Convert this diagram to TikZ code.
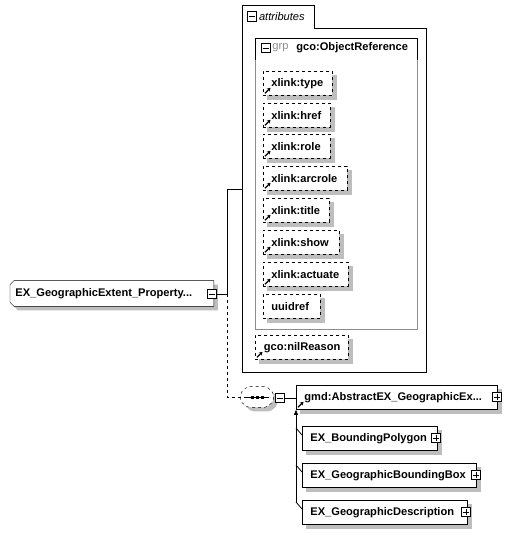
\documentclass[tikz,border=0pt]{standalone}
\usepackage{fontspec}
\setmainfont{Liberation Sans}
\usetikzlibrary{arrows.meta,positioning,backgrounds}

\definecolor{shadowgray}{RGB}{190,190,190}
\definecolor{grpgray}{RGB}{140,140,140}
\newcommand{\dfont}{\fontsize{11.1}{12}\selectfont}
% little reference arrow in the lower left corner
\newcommand{\refmark}[1]{\draw[solid,line width=1.2pt,-{Stealth[length=3.4pt,width=4pt]}]
  ([shift={(2pt,2.5pt)}]#1.south west) -- ++(5.5pt,5.5pt);}
% grey shadow behind a box
\newcommand{\shadowof}[1]{\fill[shadowgray] ([shift={(4pt,-4pt)}]#1.north west) rectangle ([shift={(4pt,-4pt)}]#1.south east);}

\tikzset{
  elem/.style={draw,fill=white,minimum height=24pt,inner xsep=8pt,inner ysep=0pt,
    text width=#1,align=left,anchor=north west,font=\dfont\bfseries},
  attr/.style={elem=#1,dashed},
  btn/.style={draw,solid,fill=white,minimum size=9.5pt,inner sep=0pt},
  minus btn/.style={btn,path picture={
    \draw ([xshift=1.8pt]path picture bounding box.west) -- ([xshift=-1.8pt]path picture bounding box.east);}},
  plus btn/.style={btn,path picture={
    \draw ([xshift=1.8pt]path picture bounding box.west) -- ([xshift=-1.8pt]path picture bounding box.east);
    \draw ([yshift=-1.8pt]path picture bounding box.north) -- ([yshift=1.8pt]path picture bounding box.south);}},
}

\begin{document}
\begin{tikzpicture}[x=1pt,y=-1pt,line width=0.8pt]
  \useasboundingbox (0,0) rectangle (512,534);

  % the element itself
  \node[minimum height=25pt,inner xsep=5pt,text width=193pt,align=left,anchor=west,
    font=\dfont\bfseries] (geoext) at (10,293.5) {EX\_GeographicExtent\_Property...};
  \begin{scope}[on background layer]
    \fill[shadowgray] ([shift={(4pt,-4pt)}]geoext.north east)
      -- ([shift={(8pt,-4pt)}]geoext.north west) -- ([shift={(4pt,-8pt)}]geoext.north west)
      -- ([shift={(4pt,0pt)}]geoext.south west) -- ([shift={(8pt,-4pt)}]geoext.south west)
      -- ([shift={(4pt,-4pt)}]geoext.south east) -- cycle;
    \draw[fill=white] (geoext.north east)
      -- ([xshift=4pt]geoext.north west) -- ([yshift=-4pt]geoext.north west)
      -- ([yshift=4pt]geoext.south west) -- ([xshift=4pt]geoext.south west)
      -- (geoext.south east) -- cycle;
  \end{scope}
  \node[minus btn] (geobtn) at (212,294) {};

  % attributes
  \draw (242,372) -- (242,5) -- (314,5) -- (314,28) -- (426,28) -- (426,372) -- cycle;
  \node[minus btn] (attrbtn) at (252,16.5) {};
  \node[right=1.5pt of attrbtn.east,anchor=west,inner sep=0pt,font=\dfont\itshape] (attrlbl) {attributes};
  \coordinate (attrin) at (242,189);

  % group
  \draw[grpgray] (255,38) rectangle (417,329);
  \draw (255,60) -- (255,38) -- (417,38) -- (417,60);
  \node[minus btn] (grpbtn) at (266,48) {};
  \node[anchor=west,inner sep=0pt,font=\dfont,text=grpgray] (grplbl) at (272,48) {grp};
  \node[anchor=west,inner sep=0pt,font=\dfont\bfseries] (grpname) at (296,48) {gco:ObjectReference};

  \node[attr=53pt] (xtype) at (263,71) {xlink:type};
  \node[attr=51pt] (xhref) at (263,103) {xlink:href};
  \node[attr=51pt] (xrole) at (263,134) {xlink:role};
  \node[attr=68pt] (xarcrole) at (263,166) {xlink:arcrole};
  \node[attr=50pt] (xtitle) at (263,198) {xlink:title};
  \node[attr=60pt] (xshow) at (263,230) {xlink:show};
  \node[attr=69pt] (xactuate) at (263,262) {xlink:actuate};
  \node[attr=41pt] (uuidref) at (263,294) {uuidref};
  \node[attr=76pt,inner xsep=8.5pt] (nilreason) at (255,335) {gco:nilReason};
  \foreach \a in {xtype,xhref,xrole,xarcrole,xtitle,xshow,xactuate,nilreason}
    {\refmark{\a}}

  % sequence
  \node[minimum width=32pt,minimum height=20pt,inner sep=0pt] (seq) at (257,397) {};
  \begin{scope}[on background layer]
    \fill[shadowgray,rounded corners=2pt]
      ([shift={(11pt,-4pt)}]seq.north west) -- ([shift={(-3pt,-4pt)}]seq.north east) -- ([shift={(4pt,-10pt)}]seq.north east)
      -- ([shift={(4pt,2pt)}]seq.south east) -- ([shift={(-3pt,-4pt)}]seq.south east) -- ([shift={(11pt,-4pt)}]seq.south west)
      -- ([shift={(4pt,2pt)}]seq.south west) -- ([shift={(4pt,-10pt)}]seq.north west) -- cycle;
    \draw[dashed,fill=white,rounded corners=2pt]
      ([xshift=7pt]seq.north west) -- ([xshift=-7pt]seq.north east) -- ([yshift=-6pt]seq.north east)
      -- ([yshift=6pt]seq.south east) -- ([xshift=-7pt]seq.south east) -- ([xshift=7pt]seq.south west)
      -- ([yshift=6pt]seq.south west) -- ([yshift=-6pt]seq.north west) -- cycle;
  \end{scope}
  \draw ([xshift=3pt]seq.west) -- ([xshift=-4pt]seq.east);
  \foreach \dx in {-5,0,5}
    \fill ([shift={(\dx pt-1.5pt,-1.5pt)}]seq.center) rectangle ++(3pt,3pt);
  \node[minus btn] (seqbtn) at (280,398) {};

  \node[elem=185pt] (gmd) at (296,385) {gmd:AbstractEX\_GeographicEx...};
  \refmark{gmd}
  \node[plus btn] (gmdbtn) at (497,397) {};

  % substitution members
  \node[elem=119pt] (poly) at (302,426) {EX\_BoundingPolygon};
  \node[plus btn] (polybtn) at (436,438) {};
  \node[elem=158pt] (bbox) at (302,463) {EX\_GeographicBoundingBox};
  \node[plus btn] (bboxbtn) at (476,475) {};
  \node[elem=149pt] (desc) at (302,500) {EX\_GeographicDescription};
  \node[plus btn] (descbtn) at (466,512) {};
  \coordinate (subst) at (296,503);

  \begin{scope}[on background layer]
    \foreach \n in {xtype,xhref,xrole,xarcrole,xtitle,xshow,xactuate,uuidref,nilreason,gmd,poly,bbox,desc}
      {\shadowof{\n}}
  \end{scope}

  % connectors
  \coordinate (jn) at (227,294);
  \draw (geobtn.east) -- (jn) |- (attrin);
  \draw[dashed] (jn) |- (seq.west);
  \draw (seqbtn.east) -- (gmd.west |- seqbtn.east);
  \draw[-{Triangle[length=5pt,width=4pt]}] (subst) -- (gmd.south west);
  \foreach \c in {poly,bbox,desc}
    \draw ([yshift=-2pt]\c.north west -| subst) -- ([yshift=-9pt]\c.north west);
\end{tikzpicture}
\end{document}
